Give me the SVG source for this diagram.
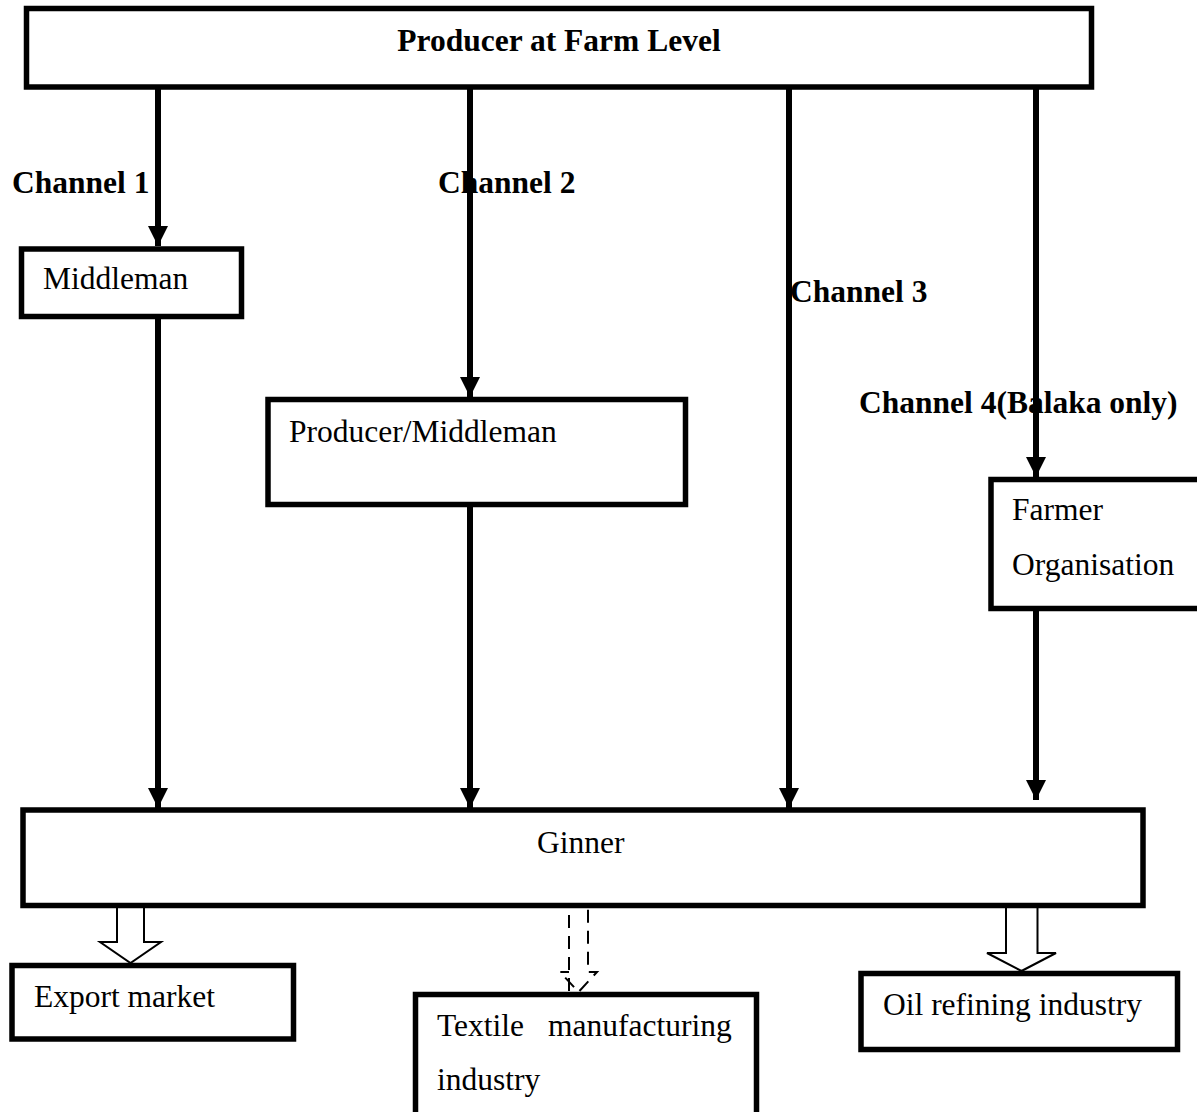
<svg xmlns="http://www.w3.org/2000/svg" width="1197" height="1112" viewBox="0 0 1197 1112">
<defs>
<style>
.box{fill:#fff;stroke:#000;stroke-width:5.5}
.ln{stroke:#000;stroke-width:6;fill:none}
.hollow{fill:#fff;stroke:#000;stroke-width:2;stroke-linejoin:miter}
.dash{fill:#fff;stroke:#000;stroke-width:2;stroke-dasharray:13 8}
.t{font-family:"Liberation Serif","Times New Roman",serif;font-size:31.5px;fill:#000}
.b{font-weight:bold}
</style>
<marker id="ah" markerUnits="userSpaceOnUse" markerWidth="22" markerHeight="20" refX="20" refY="10" orient="auto">
<path d="M0,0 L20,10 L0,20 Z" fill="#000"/>
</marker>
</defs>
<rect width="1197" height="1112" fill="#fff"/>

<g id="connectors">
<line class="ln" x1="158" y1="87" x2="158" y2="246" marker-end="url(#ah)"/>
<line class="ln" x1="158" y1="317" x2="158" y2="808" marker-end="url(#ah)"/>
<line class="ln" x1="470" y1="87" x2="470" y2="397" marker-end="url(#ah)"/>
<line class="ln" x1="470" y1="505" x2="470" y2="808" marker-end="url(#ah)"/>
<line class="ln" x1="789" y1="87" x2="789" y2="808" marker-end="url(#ah)"/>
<line class="ln" x1="1036" y1="87" x2="1036" y2="477" marker-end="url(#ah)"/>
<line class="ln" x1="1036" y1="609" x2="1036" y2="800" marker-end="url(#ah)"/>
<path class="hollow" d="M117,908 L117,942 L100,942 L130.5,963 L161,942 L144,942 L144,908"/>
<path class="dash" d="M569,991 L569,908 Q569,906 578.5,906 Q588,906 588,908 L588,972 L597,972 L578.5,992 L560,972 L569,972"/>
<path class="hollow" d="M1006,908 L1006,953 L987,953 L1021.5,971 L1056,953 L1037.5,953 L1037.5,908"/>
</g>

<g id="producer">
<rect class="box" x="26.5" y="8.5" width="1065" height="78.5"/>
<text class="t b" x="559" y="51" text-anchor="middle">Producer at Farm Level</text>
</g>
<g id="labels">
<text class="t b" x="12" y="193">Channel 1</text>
<text class="t b" x="438" y="193">Channel 2</text>
<text class="t b" x="790" y="302">Channel 3</text>
<text class="t b" x="859" y="413">Channel 4(Balaka only)</text>
</g>
<g id="middleman">
<rect class="box" x="21.5" y="249" width="220" height="67.5"/>
<text class="t" x="43" y="289">Middleman</text>
</g>
<g id="producer-middleman">
<rect class="box" x="268" y="399.5" width="417.5" height="105"/>
<text class="t" x="289" y="442">Producer/Middleman</text>
</g>
<g id="farmer-organisation">
<rect class="box" x="991" y="479.5" width="215" height="129"/>
<text class="t" x="1012" y="520">Farmer</text>
<text class="t" x="1012" y="575">Organisation</text>
</g>
<g id="ginner">
<rect class="box" x="23" y="810" width="1120" height="95.5"/>
<text class="t" x="537" y="853">Ginner</text>
</g>
<g id="export-market">
<rect class="box" x="12" y="965.5" width="281.5" height="73.5"/>
<text class="t" x="34" y="1007">Export market</text>
</g>
<g id="textile">
<rect class="box" x="415.5" y="994.5" width="341" height="125"/>
<text class="t" x="437" y="1036">Textile<tspan x="548">manufacturing</tspan></text>
<text class="t" x="437" y="1090">industry</text>
</g>
<g id="oil-refining">
<rect class="box" x="861" y="973.5" width="316.5" height="76"/>
<text class="t" x="883" y="1015">Oil refining industry</text>
</g>
</svg>
